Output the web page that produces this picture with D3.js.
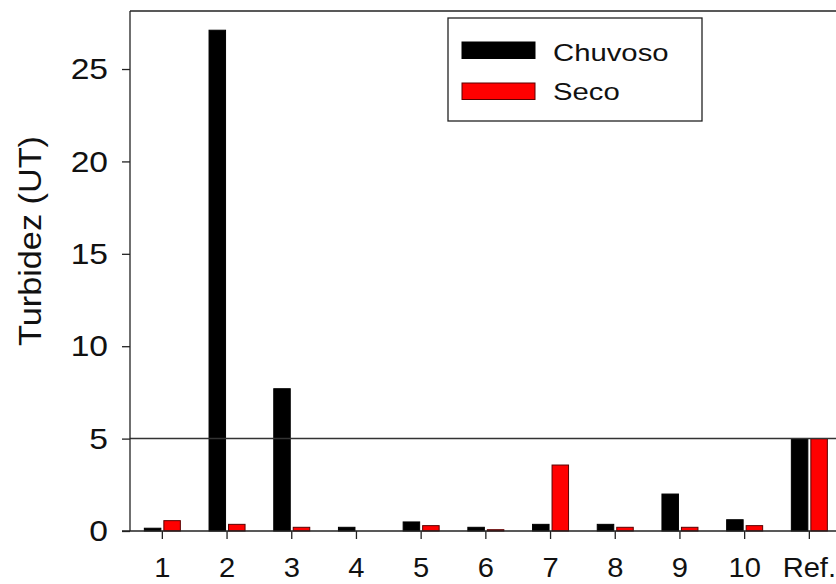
<!DOCTYPE html>
<html><head><meta charset="utf-8">
<script src="https://cdn.jsdelivr.net/npm/d3@7"></script>
<style>body{margin:0;background:#fff}svg{display:block}text{font-family:"Liberation Sans",Arial,sans-serif;fill:#111}</style>
</head><body><div id="chart"></div>
<script>
const categories = ["1","2","3","4","5","6","7","8","9","10","Ref."];
const chuvoso = [0.15, 27.1, 7.7, 0.2, 0.49, 0.2, 0.36, 0.36, 2.0, 0.61, 5];
const seco = [0.56, 0.36, 0.2, 0, 0.29, 0.07, 3.57, 0.2, 0.2, 0.29, 5];
const yTicks = [0, 5, 10, 15, 20, 25];
const refLine = 5;
const seriesNames = ["Chuvoso", "Seco"];
const seriesColors = ["#000000", "#ff0000"];

const W = 836, H = 584;
const m = {left: 130, top: 11, right: 841.7, bottom: 531};
const svg = d3.select("#chart").append("svg").attr("width", W).attr("height", H);

const x = d3.scaleBand().domain(categories).range([m.left, m.right]).padding(0);
const y = d3.scaleLinear().domain([0, 28.14]).range([m.bottom, m.top]);

function stretch(sel, f) {
  sel.each(function(){ const l = this.getComputedTextLength(); d3.select(this).attr("textLength", l*f).attr("lengthAdjust","spacingAndGlyphs"); });
}

// bars
const bw = 16.5, gap = 3;
const data = categories.map((c,i)=>({c, v:[chuvoso[i], seco[i]]}));
const g = svg.append("g");
data.forEach(d=>{
  const cx = x(d.c) + x.bandwidth()/2;
  d.v.forEach((v,j)=>{
    if (v <= 0) return;
    const x0 = j===0 ? cx - gap/2 - bw : cx + gap/2;
    g.append("rect").attr("x", x0).attr("y", y(v)).attr("width", bw).attr("height", y(0)-y(v))
      .attr("fill", seriesColors[j]).attr("stroke", j===0 ? "#000" : "#5a0000").attr("stroke-width", 1);
  });
});

// reference line
svg.append("line").attr("x1", m.left).attr("x2", m.right).attr("y1", y(refLine)).attr("y2", y(refLine))
  .attr("stroke", "#333").attr("stroke-width", 1.5);

// frame
svg.append("line").attr("x1", m.left).attr("x2", m.right).attr("y1", m.top).attr("y2", m.top).attr("stroke","#222").attr("stroke-width",1.3);

// y axis
const yAxis = d3.axisLeft(y).tickValues(yTicks).tickSize(8).tickPadding(14).tickSizeOuter(0);
const ya = svg.append("g").attr("transform", `translate(${m.left},0)`).call(yAxis);
ya.select(".domain").attr("stroke","#222").attr("stroke-width",1.3).attr("d", `M0,${m.top}V${m.bottom}`);
ya.selectAll(".tick line").attr("stroke","#222").attr("stroke-width",1.3);
ya.selectAll(".tick text").attr("font-size", 30).attr("fill","#111").style("font-family","Liberation Sans, Arial").attr("x",-22);
stretch(ya.selectAll(".tick text"), 1.12);

// x axis
const xAxis = d3.axisBottom(x).tickSize(8).tickPadding(12).tickSizeOuter(0);
const xa = svg.append("g").attr("transform", `translate(0,${m.bottom})`).call(xAxis);
xa.select(".domain").attr("stroke","#222").attr("stroke-width",1.3).attr("d", `M${m.left - 8},0H${m.right}`);
xa.selectAll(".tick line").attr("stroke","#222").attr("stroke-width",1.3);
xa.selectAll(".tick text").attr("font-size", 28).attr("fill","#111").style("font-family","Liberation Sans, Arial").attr("dy","0").attr("y", 46);
stretch(xa.selectAll(".tick text"), 1.04);

// y title
svg.append("text").attr("transform", `translate(41,241) rotate(-90)`).attr("text-anchor","middle")
  .attr("font-size", 32).text("Turbidez (UT)").call(s=>stretch(s, 1.07));

// legend
const lg = svg.append("g");
lg.append("rect").attr("x", 448).attr("y", 18).attr("width", 254).attr("height", 103).attr("fill","#fff").attr("stroke","#222").attr("stroke-width",1.3);
seriesNames.forEach((n,i)=>{
  const yy = [42, 83][i];
  lg.append("rect").attr("x", 462).attr("y", yy).attr("width", 73).attr("height", 16.5).attr("fill", seriesColors[i]).attr("stroke", i===0?"#000":"#5a0000").attr("stroke-width",1);
  lg.append("text").attr("x", 553).attr("y", [61, 100][i]).attr("font-size", 24).text(n).call(s=>stretch(s, 1.22));
});
</script></body></html>
